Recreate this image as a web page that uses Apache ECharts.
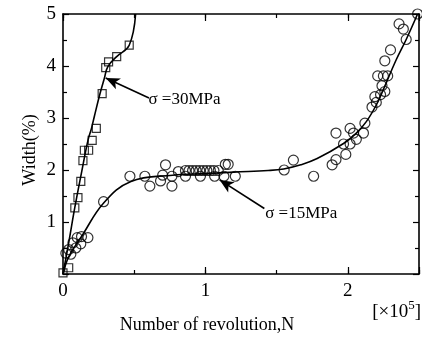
<!DOCTYPE html>
<html><head><meta charset="utf-8">
<script src="https://cdn.jsdelivr.net/npm/echarts@6/dist/echarts.min.js"></script>
<style>html,body{margin:0;padding:0;background:#fff}#c{width:422px;height:338px}</style>
</head><body><div id="c"></div>
<script>
// ---- data ----
const xTicks = [0, 1, 2];
const yTicks = [1, 2, 3, 4, 5];
// sigma = 30 MPa (squares)
const sq30 = [[0,0.02],[0.04,0.12],[0.083,1.27],[0.105,1.47],[0.125,1.78],[0.14,2.18],[0.15,2.38],[0.18,2.38],[0.205,2.57],[0.234,2.8],[0.275,3.47],[0.30,3.97],[0.32,4.08],[0.377,4.18],[0.465,4.40]];
const fit30 = [[0,0],[0.04,0.6],[0.083,1.28],[0.13,1.95],[0.176,2.58],[0.2,2.8],[0.22,3.03],[0.26,3.47],[0.29,3.76],[0.315,3.99],[0.377,4.18],[0.465,4.40],[0.51,5.0]];
// sigma = 15 MPa (circles)
const ci15 = [[0.02,0.40],[0.04,0.47],[0.055,0.38],[0.07,0.6],[0.09,0.5],[0.1,0.7],[0.125,0.58],[0.13,0.72],[0.175,0.7],[0.285,1.39],[0.47,1.88],[0.575,1.88],[0.61,1.69],[0.685,1.79],[0.70,1.9],[0.72,2.1],[0.765,1.88],[0.765,1.69],[0.81,1.97],[0.86,1.88],[0.86,1.99],[0.885,1.99],[0.91,1.99],[0.935,1.99],[0.96,1.99],[0.965,1.88],[0.985,1.99],[1.01,1.99],[1.035,1.99],[1.06,1.99],[1.065,1.88],[1.09,1.99],[1.13,1.88],[1.14,2.11],[1.16,2.11],[1.21,1.88],[1.553,2.0],[1.618,2.19],[1.76,1.88],[1.89,2.1],[1.917,2.2],[1.986,2.3],[1.917,2.71],[1.97,2.5],[2.016,2.5],[2.016,2.8],[2.04,2.71],[2.06,2.59],[2.11,2.71],[2.12,2.9],[2.17,3.21],[2.2,3.3],[2.19,3.41],[2.23,3.45],[2.26,3.51],[2.24,3.62],[2.21,3.81],[2.25,3.81],[2.28,3.81],[2.26,4.1],[2.30,4.31],[2.36,4.81],[2.39,4.71],[2.41,4.51],[2.49,5.0]];
const fit15 = [[0,0],[0.04,0.33],[0.13,0.72],[0.287,1.37],[0.477,1.78],[0.77,1.9],[1.0,1.93],[1.2,1.96],[1.44,1.99],[1.55,2.02],[1.67,2.1],[1.785,2.22],[1.97,2.51],[2.06,2.71],[2.13,2.93],[2.20,3.25],[2.25,3.55],[2.34,4.12],[2.41,4.51],[2.49,5.0]];
// annotations
const label30 = '\u03c3 =30MPa', label15 = '\u03c3 =15MPa';
const arrow30 = [[0.604,3.385],[0.30,3.77]];
const arrow15 = [[1.414,1.26],[1.10,1.81]];
const text30At = [0.6,3.35];
const text15At = [1.42,1.17];

const serif = 'Liberation Serif';
const black = '#000';
function xAx(pos, interval, len, showLine, showLabel){
  return {type:'value', position:pos, min:0, max:2.5, interval:interval,
    axisLine:{show:showLine, onZero:false, lineStyle:{color:black,width:1.6}},
    axisTick:{show:true, inside:true, length:len, lineStyle:{color:black,width:1.2}},
    axisLabel:{show:showLabel, color:black, fontFamily:serif, fontSize:19, margin:8,
      formatter:v => xTicks.includes(v) ? String(v) : ''},
    splitLine:{show:false}};
}
function yAx(pos, showLabel){
  return {type:'value', position:pos, min:0, max:5, interval:1,
    axisLine:{show:true, onZero:false, lineStyle:{color:black,width:1.6}},
    axisTick:{show:true, inside:true, length:6, lineStyle:{color:black,width:1.2}},
    minorTick:{show:true, splitNumber:2, length:4, lineStyle:{color:black,width:1.2}},
    axisLabel:{show:showLabel, color:black, fontFamily:serif, fontSize:19, margin:7,
      formatter:v => yTicks.includes(v) ? String(v) : ''},
    splitLine:{show:false}, minorSplitLine:{show:false}};
}
const chart = echarts.init(document.getElementById('c'), null, {renderer:'canvas'});
const scatterStyle = {color:'rgba(0,0,0,0)', borderColor:black, borderWidth:1.2};
chart.setOption({
  animation:false,
  backgroundColor:'#fff',
  grid:{left:63, right:0, top:14, bottom:64, containLabel:false},
  xAxis:[xAx('bottom',0.5,4,true,true), xAx('bottom',1,7,false,false), xAx('top',0.5,4,true,false), xAx('top',1,7,false,false)],
  yAxis:[yAx('left',true), yAx('right',false)],
  graphic:[
    {type:'text', style:{text:'Width(%)', font:'18px "Liberation Serif"', fill:black, textAlign:'center', textVerticalAlign:'middle'}, rotation:Math.PI/2, x:30, y:150},
    {type:'text', style:{text:'Number of revolution,N', font:'18px "Liberation Serif"', fill:black, textAlign:'center', textVerticalAlign:'middle'}, x:207, y:325},
    {type:'text', style:{text:'[\u00d710{s|5}]', font:'19px "Liberation Serif"', fill:black, textAlign:'right', textVerticalAlign:'middle', rich:{s:{fontSize:13, fontFamily:serif, verticalAlign:'top', padding:[0,0,12,0]}}}, x:421, y:312}
  ],
  series:[
    {type:'line', smooth:0.4, data:fit30, showSymbol:false, symbol:'none', lineStyle:{color:black,width:1.6}, clip:true,
     markLine:{silent:true, symbol:['none','arrow'], symbolSize:[9,14], lineStyle:{color:black,width:1.6,type:'solid'}, label:{show:false},
       data:[[{coord:arrow30[0]},{coord:arrow30[1]}],[{coord:arrow15[0]},{coord:arrow15[1]}]]},
     markPoint:{silent:true, symbol:'circle', symbolSize:0,
       label:{show:true, position:'right', distance:0, color:black, fontFamily:serif, fontSize:17},
       data:[{coord:text30At, label:{formatter:label30}},{coord:text15At, label:{formatter:label15}}]}},
    {type:'line', smooth:0.4, data:fit15, showSymbol:false, symbol:'none', lineStyle:{color:black,width:1.6}, clip:true},
    {type:'scatter', data:sq30, symbol:'rect', symbolSize:8, itemStyle:scatterStyle, clip:false},
    {type:'scatter', data:ci15, symbol:'circle', symbolSize:10, itemStyle:scatterStyle, clip:false}
  ]
});
</script></body></html>
